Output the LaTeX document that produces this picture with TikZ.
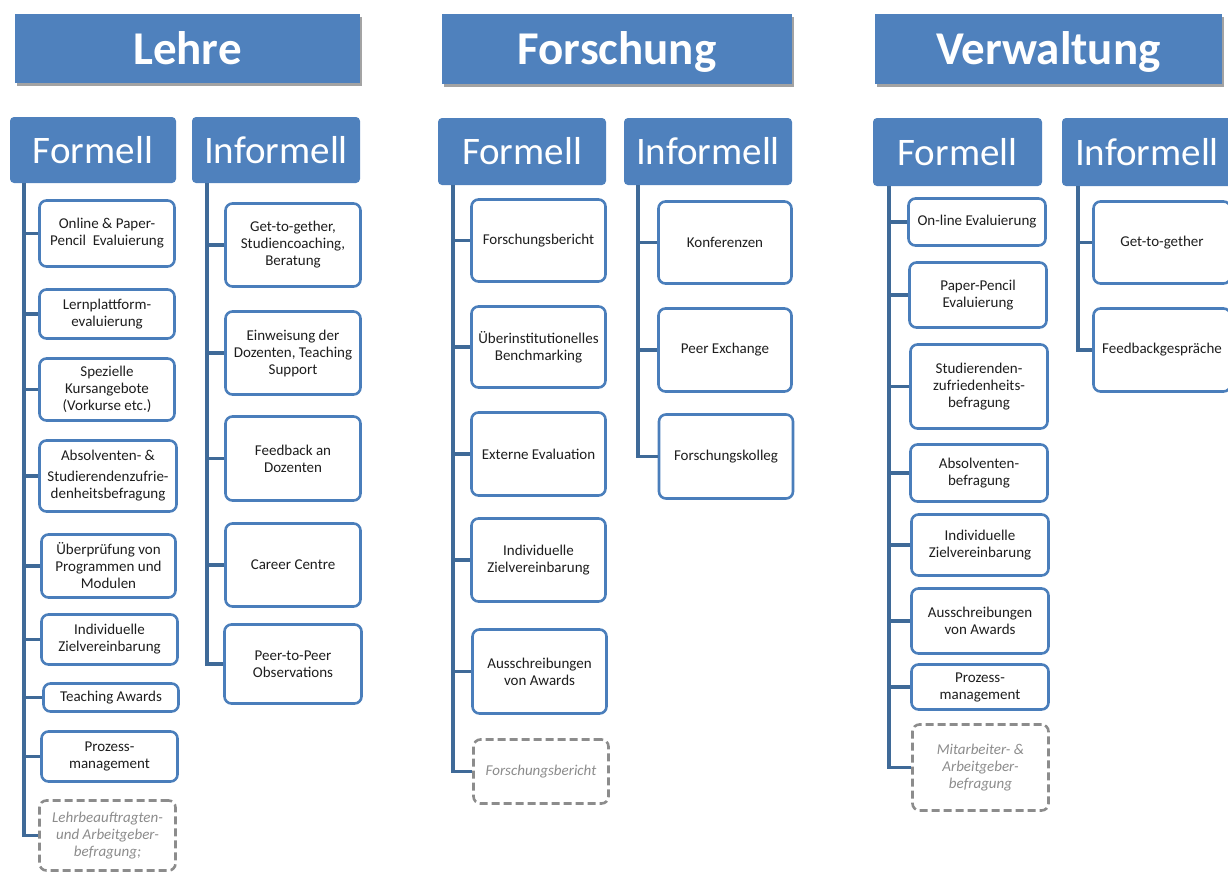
\documentclass[tikz,border=0pt]{standalone}
\usepackage{fontspec}
\setmainfont{Carlito}
\usetikzlibrary{shadows}
\definecolor{hblue}{HTML}{4F81BD}
\definecolor{bblue}{HTML}{4A7EBB}
\definecolor{lblue}{HTML}{3F6A98}
\definecolor{txt}{HTML}{1E1E1E}
\definecolor{dgray}{HTML}{8C8C8C}
\newcommand\mkitem[7][item]{\node[#1, minimum width=#5pt, minimum height=#6pt] (#2) at (#3,#4) {#7};}
\begin{document}
\begin{tikzpicture}[x=1pt,y=-1pt,
  titlebox/.style={fill=hblue, text=white, font=\fontsize{47}{50}\selectfont\bfseries, inner sep=0pt,
    text height=31pt, text depth=0pt,
    drop shadow={shadow xshift=2pt, shadow yshift=-3pt, fill=black!45, opacity=0.8}},
  headbox/.style={fill=hblue, text=white, rounded corners=4pt, font=\fontsize{39}{44}\selectfont, inner sep=0pt},
  item/.style={draw=bblue, line width=2.6pt, rounded corners=7pt, fill=white, text=txt, align=center,
    font=\fontsize{15}{17}\selectfont, inner sep=2pt},
  dbox/.style={item, draw=dgray, dash pattern=on 8pt off 4pt, text=dgray, font=\fontsize{15}{17}\selectfont\itshape},
  conn/.style={draw=lblue, line width=3.2pt}]
\useasboundingbox (0,0) rectangle (1228,873);

% titles
\node[titlebox, minimum width=345pt, minimum height=69pt] (TL) at (187.5,48.5) {Lehre};
\node[titlebox, minimum width=350pt, minimum height=70pt] (TF) at (617,48.5) {Forschung};
\node[titlebox, minimum width=347pt, minimum height=70pt] (TV) at (1048.5,48.5) {Verwaltung};

% headers
\node[headbox, minimum width=166pt, minimum height=66pt] (LF) at (93,150) {Formell};
\node[headbox, minimum width=168pt, minimum height=66pt] (LI) at (276,150) {Informell};
\node[headbox, minimum width=168pt, minimum height=67pt] (FF) at (522,151.5) {Formell};
\node[headbox, minimum width=168pt, minimum height=67pt] (FI) at (708,151.5) {Informell};
\node[headbox, minimum width=169pt, minimum height=68pt] (VF) at (957.5,152) {Formell};
\node[headbox, minimum width=170pt, minimum height=68pt] (VI) at (1147,152) {Informell};

\coordinate (lfT) at (24,183);
\coordinate (liT) at (207,183);
\coordinate (ffT) at (453,185);
\coordinate (fiT) at (638,185);
\coordinate (vfT) at (889,186);
\coordinate (viT) at (1078,186);

% Lehre formell
\mkitem{lf1}{107}{233.5}{135}{66}{Online \& Paper-\\Pencil\ \ Evaluierung}
\mkitem{lf2}{107}{314}{135}{49}{Lernplattform-\\evaluierung}
\mkitem{lf3}{107}{389.5}{135}{62}{Spezielle\\Kursangebote\\(Vorkurse etc.)}
\mkitem{lf4}{108}{476}{137}{71}{Absolventen- \&\\[4pt]Studierendenzufrie-\\denheitsbefragung}
\mkitem{lf5}{108.5}{566}{134}{63}{Überprüfung von\\Programmen und\\Modulen}
\mkitem{lf6}{109.5}{639.5}{136}{50}{Individuelle\\Zielvereinbarung}
\mkitem{lf7}{111}{697.5}{135}{28}{Teaching Awards}
\mkitem{lf8}{109.5}{756.5}{136}{50}{Prozess-\\management}
\mkitem[dbox]{lf9}{107.5}{835.5}{136}{70}{Lehrbeauftragten-\\und Arbeitgeber-\\befragung;}

% Lehre informell
\mkitem{li1}{293}{245}{135}{83}{Get-to-gether,\\Studiencoaching,\\Beratung}
\mkitem{li2}{293}{353}{135}{83}{Einweisung der\\Dozenten, Teaching\\Support}
\mkitem{li3}{293}{458.5}{135}{84}{Feedback an\\Dozenten}
\mkitem{li4}{293}{565}{135}{83}{Career Centre}
\mkitem{li5}{293}{664}{137}{79}{Peer-to-Peer\\Observations}

% Forschung formell
\mkitem{ff1}{538.5}{240.5}{134}{82}{Forschungsbericht}
\mkitem{ff2}{538.5}{347}{134}{81}{Überinstitutionelles\\Benchmarking}
\mkitem{ff3}{538.5}{454}{134}{83}{Externe Evaluation}
\mkitem{ff4}{538.5}{560}{134}{83}{Individuelle\\Zielvereinbarung}
\mkitem{ff5}{539.5}{671.5}{134}{84}{Ausschreibungen\\von Awards}
\mkitem[dbox]{ff6}{541}{771.5}{135}{64}{Forschungsbericht}

% Forschung informell
\mkitem{fi1}{725}{242.5}{133}{82}{Konferenzen}
\mkitem{fi2}{725}{350}{133}{83}{Peer Exchange}
\mkitem{fi3}{726}{456.5}{134}{84}{Forschungskolleg}

% Verwaltung formell
\mkitem{vf1}{977}{222}{137}{47}{On-line Evaluierung}
\mkitem{vf2}{978}{295}{137}{65}{Paper-Pencil\\Evaluierung}
\mkitem{vf3}{979}{386.5}{137}{84}{Studierenden-\\zufriedenheits-\\befragung}
\mkitem{vf4}{979}{473}{137}{57}{Absolventen-\\befragung}
\mkitem{vf5}{980}{545}{137}{61}{Individuelle\\Zielvereinbarung}
\mkitem{vf6}{980}{621}{137}{65}{Ausschreibungen\\von Awards}
\mkitem{vf7}{980}{687}{137}{45}{Prozess-\\management}
\mkitem[dbox]{vf8}{980.5}{767.5}{136}{86}{Mitarbeiter- \&\\Arbeitgeber-\\befragung}

% Verwaltung informell
\mkitem{vi1}{1162}{242.5}{137}{82}{Get-to-gether}
\mkitem{vi2}{1162}{350}{137}{83}{Feedbackgespräche}

% connectors
\foreach \i in {1,...,9} {\draw[conn] (lfT) |- (lf\i.west);}
\foreach \i in {1,...,5} {\draw[conn] (liT) |- (li\i.west);}
\foreach \i in {1,...,6} {\draw[conn] (ffT) |- (ff\i.west);}
\foreach \i in {1,...,3} {\draw[conn] (fiT) |- (fi\i.west);}
\foreach \i in {1,...,8} {\draw[conn] (vfT) |- (vf\i.west);}
\foreach \i in {1,...,2} {\draw[conn] (viT) |- (vi\i.west);}
\end{tikzpicture}
\end{document}
